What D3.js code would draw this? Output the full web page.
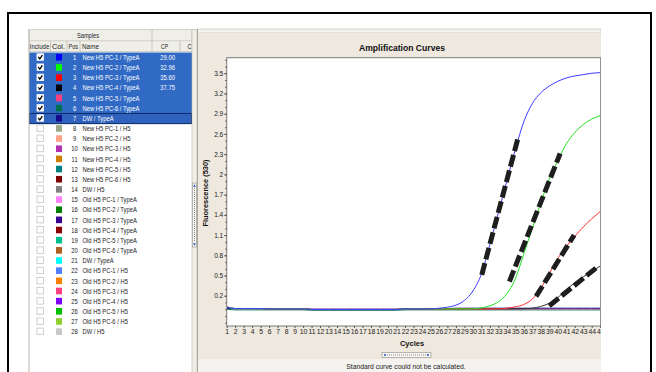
<!DOCTYPE html>
<html>
<head>
<meta charset="utf-8">
<script src="https://cdn.jsdelivr.net/npm/d3@7"></script>
<style>
  html, body { margin: 0; padding: 0; background: #fff; }
  svg text { font-family: "Liberation Sans Narrow", "Arial Narrow", "Liberation Sans", sans-serif; }
</style>
</head>
<body>
<svg id="graphic"></svg>
<script>

// Sample table
const samplePos = [1, 2, 3, 4, 5, 6, 7, 8, 9, 10, 11, 12, 13, 14, 15, 16, 17, 18, 19, 20, 21, 22, 23, 24, 25, 26, 27, 28]
const sampleNames = [
    "New H5 PC-1 / TypeA", "New H5 PC-2 / TypeA", "New H5 PC-3 / TypeA", "New H5 PC-4 / TypeA",
    "New H5 PC-5 / TypeA", "New H5 PC-6 / TypeA", "DW / TypeA",
    "New H5 PC-1 / H5", "New H5 PC-2 / H5", "New H5 PC-3 / H5", "New H5 PC-4 / H5",
    "New H5 PC-5 / H5", "New H5 PC-6 / H5", "DW / H5",
    "Old H5 PC-1 / TypeA", "Old H5 PC-2 / TypeA", "Old H5 PC-3 / TypeA", "Old H5 PC-4 / TypeA",
    "Old H5 PC-5 / TypeA", "Old H5 PC-6 / TypeA", "DW / TypeA",
    "Old H5 PC-1 / H5", "Old H5 PC-2 / H5", "Old H5 PC-3 / H5", "Old H5 PC-4 / H5",
    "Old H5 PC-5 / H5", "Old H5 PC-6 / H5", "DW / H5"
]
const sampleColors = [
    "#0000ff", "#00ff00", "#ff0000", "#000000", "#ff3d7f", "#007050", "#140c8a",
    "#9aa88a", "#ffa08a", "#b030b0", "#d08000", "#008080", "#800000", "#808080",
    "#ff80ff", "#008000", "#3a0090", "#8b0000", "#00c090", "#b06020", "#00ffff",
    "#5080ff", "#ff8000", "#ff4080", "#8000ff", "#00c000", "#90d030", "#c8c8c8"
]
const sampleCP = ["29.00", "32.96", "35.60", "37.75"]
const includedCount = 7
const columnHeaders = ["Include", "Col.", "Pos", "Name", "CP", "C"]

// Amplification data
const cycles = [1, 2, 3, 4, 5, 6, 7, 8, 9, 10, 11, 12, 13, 14, 15, 16, 17, 18, 19, 20, 21, 22, 23,
    24, 25, 26, 27, 28, 29, 30, 31, 32, 33, 34, 35, 36, 37, 38, 39, 40, 41, 42, 43, 44, 45]
const yTicks = [0.2, 0.5, 0.8, 1.1, 1.4, 1.7, 2, 2.3, 2.6, 2.9, 3.2, 3.5]

const pc1TypeA = [0.03, 0.01, 0.01, 0.01, 0.01, 0.005, 0.005, 0.005, 0.005, 0.005,
    -0.005, -0.005, -0.005, -0.005, -0.005, -0.005, -0.005, -0.005, -0.005, -0.005, -0.005,
    0.005, 0.005, 0.005, 0.005, 0.015, 0.03, 0.06, 0.13, 0.27,
    0.52, 0.96, 1.43, 1.9, 2.37, 2.78, 3.05, 3.21, 3.31, 3.38, 3.43, 3.46, 3.48, 3.5, 3.51]
const pc2TypeA = [0.03, 0.01, 0.01, 0.01, 0.01, 0.005, 0.005, 0.005, 0.005, 0.005,
    -0.005, -0.005, -0.005, -0.005, -0.005, -0.005, -0.005, -0.005, -0.005, -0.005, -0.005,
    0.005, 0.005, 0.005, 0.005, 0.005, 0.005, 0.005, 0.005, 0.005,
    0.02, 0.05, 0.11, 0.23, 0.45, 0.82, 1.2, 1.58, 1.93, 2.2, 2.45, 2.62, 2.74, 2.82, 2.87]
const pc3TypeA = [0.04, 0.01, 0.01, 0.01, 0.01, 0.005, 0.005, 0.005, 0.005, 0.005,
    -0.005, -0.005, -0.005, -0.005, -0.005, -0.005, -0.005, -0.005, -0.005, -0.005, -0.005,
    0.005, 0.005, 0.005, 0.005, 0.005, 0.005, 0.005, 0.005, 0.005, 0.005, 0.005, 0.005,
    0.015, 0.035, 0.07, 0.15, 0.31, 0.53, 0.75, 0.93, 1.08, 1.22, 1.34, 1.45]
const pc4TypeA = [0.03, 0.01, 0.01, 0.01, 0.01, 0.005, 0.005, 0.005, 0.005, 0.005,
    -0.005, -0.005, -0.005, -0.005, -0.005, -0.005, -0.005, -0.005, -0.005, -0.005, -0.005,
    0.005, 0.005, 0.005, 0.005, 0.005, 0.005, 0.005, 0.005, 0.005, 0.005, 0.005, 0.005,
    0.005, 0.005, 0.005, 0.015, 0.04, 0.09, 0.17, 0.29, 0.39, 0.48, 0.56, 0.64]
const pc5TypeA = [0.01, 0.01, 0.01, 0.01, 0.01, 0.005, 0.005, 0.005, 0.005, 0.005,
    0, 0, 0, 0, 0, 0, 0, 0, 0, 0, 0, 0.005, 0.005, 0.005, 0.005, 0.005, 0.005, 0.005,
    0.005, 0.005, 0.005, 0.005, 0.005, 0.005, 0.005, 0.005, 0.005, 0.005, 0.005, 0.005,
    0.005, 0.005, 0.005, 0.005, 0.005]
const pc6TypeA = [0.0, -0.01, -0.01, -0.01, -0.01, -0.01, -0.01, -0.01, -0.01, -0.01,
    -0.015, -0.015, -0.015, -0.015, -0.015, -0.015, -0.015, -0.015, -0.015, -0.015, -0.015,
    -0.01, -0.01, -0.01, -0.01, -0.01, -0.01, -0.01, -0.01, -0.01, -0.01, -0.01, -0.01,
    -0.01, -0.01, -0.01, -0.01, -0.01, -0.01, -0.01, -0.01, -0.01, -0.01, -0.01, -0.01]
const dwTypeA = [0.01, 0.01, 0.01, 0.01, 0.01, 0.005, 0.005, 0.005, 0.005, 0.005,
    0, 0, 0, 0, 0, 0, 0, 0, 0, 0, 0, 0.005, 0.005, 0.005, 0.01, 0.01, 0.01, 0.015,
    0.015, 0.015, 0.015, 0.015, 0.015, 0.015, 0.015, 0.015, 0.015, 0.015, 0.015, 0.015,
    0.015, 0.015, 0.015, 0.015, 0.015]

// Hand drawn tangent marks: [cycle, fluorescence]
const tangentFrom = [[31.05, 0.51], [34.3, 0.41], [37.45, 0.19], [39.0, 0.05]]
const tangentTo = [[35.36, 2.56], [40.28, 2.31], [41.93, 1.10], [44.5, 0.61]]

document.addEventListener("DOMContentLoaded", () => {
    drawPage()
})

function drawPage(){

    const w = 656
    const h = 372

    const svg = d3.select("#graphic")
        .attr("width", w)
        .attr("height", h)

    svg.append("rect").attr("width", w).attr("height", h).attr("fill", "#fff")

    drawTable(svg)
    drawChart(svg)

    // outer black frame
    svg.append("rect")
        .attr("x", 8).attr("y", 13)
        .attr("width", 643).attr("height", 380)
        .attr("fill", "none")
        .attr("stroke", "#000")
        .attr("stroke-width", 2)
}

// squeeze small text so it looks like the narrow UI font of the original
function squeeze(sel, factor){
    sel.each(function(){
        const len = this.getComputedTextLength()
        d3.select(this)
            .attr("textLength", len * factor)
            .attr("lengthAdjust", "spacingAndGlyphs")
    })
}

function drawTable(svg){

    const left = 29
    const right = 192
    const rowH = 10.16
    const firstRow = 57.3
    const rowY = i => firstRow + i * rowH

    const table = svg.append("g")

    // header rows
    table.append("rect")
        .attr("x", left).attr("y", 29.5)
        .attr("width", right - left).attr("height", 22)
        .attr("fill", "#efeee8")
        .attr("stroke", "#c8c6bc")
        .attr("stroke-width", 0.8)
    table.append("line")
        .attr("x1", left).attr("x2", right)
        .attr("y1", 40.8).attr("y2", 40.8)
        .attr("stroke", "#d0cec4")

    const sepX = [50.5, 67, 80, 152, 180]
    table.selectAll(".sep")
        .data(sepX)
        .enter()
        .append("line")
        .attr("x1", d => d).attr("x2", d => d)
        .attr("y1", d => d == 152 ? 29.5 : 41)
        .attr("y2", 51.5)
        .attr("stroke", "#c8c6bc")

    const samplesLabel = table.append("text")
        .attr("x", 88).attr("y", 38.2)
        .attr("text-anchor", "middle")
        .attr("font-size", 7.2)
        .attr("fill", "#222")
        .text("Samples")

    const headerX = [29.8, 52, 68.5, 82, 161, 187.5]
    const headerW = [19.5, 13, 9.5, 17, 7, 4]
    table.selectAll(".hdr")
        .data(columnHeaders)
        .enter()
        .append("text")
        .attr("x", (d, i) => headerX[i]).attr("y", 48.8)
        .attr("font-size", 7.2)
        .attr("fill", "#222")
        .attr("textLength", (d, i) => headerW[i])
        .attr("lengthAdjust", "spacingAndGlyphs")
        .text(d => d)

    // selection band
    table.append("rect")
        .attr("x", left).attr("y", rowY(0) - 4.8)
        .attr("width", right - left).attr("height", rowH * includedCount)
        .attr("fill", "#316ac5")
    table.append("rect")
        .attr("x", left + 0.5).attr("y", rowY(6) - 4.8)
        .attr("width", right - left - 1).attr("height", rowH)
        .attr("fill", "#2f62bd")
        .attr("stroke", "#0b2a66")
        .attr("stroke-width", 1)

    const rows = table.selectAll(".row")
        .data(samplePos)
        .enter()
        .append("g")
        .attr("transform", (d, i) => `translate(0, ${rowY(i)})`)

    // checkboxes
    rows.append("rect")
        .attr("x", 37).attr("y", -3.5)
        .attr("width", 6.5).attr("height", 6.5)
        .attr("fill", "#fff")
        .attr("stroke", (d, i) => i < includedCount ? "#fff" : "#c4c4c4")
        .attr("stroke-width", 0.8)
    rows.filter((d, i) => i < includedCount)
        .append("path")
        .attr("d", "M38.3,-0.4 L39.8,1.6 L42.4,-2.2")
        .attr("fill", "none")
        .attr("stroke", "#000")
        .attr("stroke-width", 1.3)

    // colour swatches
    rows.append("rect")
        .attr("x", 56).attr("y", -3.3)
        .attr("width", 6).attr("height", 6.6)
        .attr("fill", (d, i) => sampleColors[i])

    const posText = rows.append("text")
        .attr("x", 74.6).attr("y", 2.7)
        .attr("text-anchor", "middle")
        .attr("font-size", 7.4)
        .attr("fill", (d, i) => i < includedCount ? "#fff" : "#222")
        .text(d => d)

    const nameText = rows.append("text")
        .attr("x", 82.5).attr("y", 2.7)
        .attr("font-size", 7.4)
        .attr("fill", (d, i) => i < includedCount ? "#fff" : "#222")
        .text((d, i) => sampleNames[i])

    const cpText = rows.filter((d, i) => i < sampleCP.length)
        .append("text")
        .attr("x", 160.3).attr("y", 2.7)
        .attr("font-size", 7.4)
        .attr("fill", "#fff")
        .text((d, i) => sampleCP[i])

    // the reference name "New H5 PC-1 / TypeA" is about 57px wide
    const factor = Math.min(1, 57 / nameText.node().getComputedTextLength())
    squeeze(nameText, factor)
    squeeze(posText, factor)
    squeeze(cpText, factor)
    squeeze(samplesLabel, factor)

    // table borders
    table.append("line")
        .attr("x1", left).attr("x2", left)
        .attr("y1", 29.5).attr("y2", 372)
        .attr("stroke", "#b8b6ac")
    table.append("rect")
        .attr("x", right).attr("y", 29.5)
        .attr("width", 5).attr("height", 345)
        .attr("fill", "#f0eee6")
        .attr("stroke", "#b8b6ac")
        .attr("stroke-width", 0.6)

    // splitter handle
    table.append("rect")
        .attr("x", 192.5).attr("y", 183)
        .attr("width", 4).attr("height", 64)
        .attr("fill", "#f6f6f3")
        .attr("stroke", "#9a9a9a")
        .attr("stroke-width", 0.7)
    table.append("line")
        .attr("x1", 194.5).attr("x2", 194.5)
        .attr("y1", 188).attr("y2", 242)
        .attr("stroke", "#8a8a8a")
        .attr("stroke-dasharray", "1,1")
    table.selectAll(".arrow")
        .data([[185.5, -1], [244.5, 1]])
        .enter()
        .append("path")
        .attr("d", d => `M193.2,${d[0] - d[1] * 1.2} L195.8,${d[0] - d[1] * 1.2} L194.5,${d[0] + d[1] * 1.2} Z`)
        .attr("fill", "#2050c0")
}

function drawChart(svg){

    const panelL = 197
    const panelR = 601

    svg.append("clipPath")
        .attr("id", "panel-clip")
        .append("rect")
        .attr("x", panelL).attr("y", 0)
        .attr("width", panelR - panelL).attr("height", 372)

    const panel = svg.append("g").attr("clip-path", "url(#panel-clip)")

    // panel backgrounds
    panel.append("rect")
        .attr("x", panelL).attr("y", 29)
        .attr("width", panelR - panelL).attr("height", 4)
        .attr("fill", "#f2f2f0")
        .attr("stroke", "#b8b8b0")
        .attr("stroke-width", 0.6)
    panel.append("rect")
        .attr("x", panelL).attr("y", 33)
        .attr("width", panelR - panelL).attr("height", 326)
        .attr("fill", "#eee8df")
    panel.append("rect")
        .attr("x", panelL).attr("y", 359)
        .attr("width", panelR - panelL).attr("height", 14)
        .attr("fill", "#f4f3ef")
    panel.append("line")
        .attr("x1", panelL + 0.5).attr("x2", panelL + 0.5)
        .attr("y1", 29).attr("y2", 372)
        .attr("stroke", "#a8a8a0")

    // scales
    const plotL = 226.7
    const plotR = 600.2
    const plotT = 57.7
    const plotB = 326

    const xScale = d3.scaleLinear()
        .domain([1, 45])
        .range([plotL, plotR])

    const yScale = d3.scaleLinear()
        .domain([-0.249, 3.731])
        .range([plotB, plotT])

    panel.append("rect")
        .attr("x", plotL).attr("y", plotT)
        .attr("width", plotR - plotL + 0.5).attr("height", plotB - plotT)
        .attr("fill", "#fff")
        .attr("stroke", "#7a7a7a")
        .attr("stroke-width", 1)

    // title
    panel.append("text")
        .attr("x", 402).attr("y", 51)
        .attr("text-anchor", "middle")
        .attr("font-size", 8.6)
        .attr("font-weight", "bold")
        .attr("font-family", "'Liberation Sans', Arial, sans-serif")
        .attr("fill", "#111")
        .text("Amplification Curves")

    // axes
    const axisLeft = d3.axisLeft(yScale)
        .tickValues(yTicks)
        .tickFormat(d => d)
        .tickSize(2.5)
        .tickPadding(1)

    const minorTicks = d3.axisLeft(yScale)
        .tickValues(d3.range(-0.2, 3.75, 0.1))
        .tickFormat("")
        .tickSize(1.5)

    const axisBottom = d3.axisBottom(xScale)
        .tickValues(cycles)
        .tickSize(2)
        .tickPadding(1.5)

    const gy = panel.append("g")
        .attr("transform", `translate(${plotL}, 0)`)
        .call(axisLeft)
    panel.append("g")
        .attr("transform", `translate(${plotL}, 0)`)
        .call(minorTicks)
        .select(".domain").remove()

    const gx = panel.append("g")
        .attr("transform", `translate(0, ${plotB})`)
        .call(axisBottom)

    panel.selectAll(".domain").remove()
    panel.selectAll(".tick line").attr("stroke", "#555")
    gy.selectAll("text")
        .attr("font-size", 6.5)
        .attr("fill", "#222")
        .attr("font-family", "'Liberation Sans Narrow', 'Liberation Sans', sans-serif")
    gx.selectAll("text")
        .attr("font-size", 6.8)
        .attr("fill", "#222")
        .attr("font-family", "'Liberation Sans Narrow', 'Liberation Sans', sans-serif")

    panel.append("text")
        .attr("transform", "translate(207.5, 193) rotate(-90)")
        .attr("text-anchor", "middle")
        .attr("font-size", 7.4)
        .attr("font-weight", "bold")
        .attr("fill", "#111")
        .text("Fluorescence (530)")

    panel.append("text")
        .attr("x", 412).attr("y", 345.5)
        .attr("text-anchor", "middle")
        .attr("font-size", 7.5)
        .attr("font-weight", "bold")
        .attr("fill", "#111")
        .text("Cycles")

    // curves
    svg.append("clipPath")
        .attr("id", "plot-clip")
        .append("rect")
        .attr("x", plotL + 0.5).attr("y", plotT + 0.5)
        .attr("width", plotR - plotL - 0.5).attr("height", plotB - plotT - 1)

    const line = d3.line()
        .x((d, i) => xScale(cycles[i]))
        .y(d => yScale(d))
        .curve(d3.curveMonotoneX)

    const curves = [
        [pc6TypeA, sampleColors[5]],
        [pc5TypeA, sampleColors[4]],
        [dwTypeA, sampleColors[6]],
        [pc4TypeA, "#333333"],
        [pc3TypeA, "#ff3030"],
        [pc2TypeA, "#22e022"],
        [pc1TypeA, "#3a3aff"]
    ]

    const plot = panel.append("g").attr("clip-path", "url(#plot-clip)")

    plot.selectAll(".curve")
        .data(curves)
        .enter()
        .append("path")
        .attr("d", d => line(d[0]))
        .attr("fill", "none")
        .attr("stroke", d => d[1])
        .attr("stroke-width", 1)

    // dashed tangents
    plot.selectAll(".tangent")
        .data(tangentFrom)
        .enter()
        .append("line")
        .attr("x1", d => xScale(d[0]))
        .attr("y1", d => yScale(d[1]))
        .attr("x2", (d, i) => xScale(tangentTo[i][0]))
        .attr("y2", (d, i) => yScale(tangentTo[i][1]))
        .attr("stroke", "#1e1e1e")
        .attr("stroke-width", 5)
        .attr("stroke-dasharray", "12,4")

    // little horizontal scroller
    panel.append("rect")
        .attr("x", 382).attr("y", 352.5)
        .attr("width", 49).attr("height", 5)
        .attr("fill", "#f6f6f3")
        .attr("stroke", "#9a9a9a")
        .attr("stroke-width", 0.7)
    panel.append("line")
        .attr("x1", 387).attr("x2", 426)
        .attr("y1", 355).attr("y2", 355)
        .attr("stroke", "#8a8a8a")
        .attr("stroke-dasharray", "1,1")
    panel.selectAll(".hdot")
        .data([385, 428])
        .enter()
        .append("circle")
        .attr("cx", d => d).attr("cy", 355)
        .attr("r", 1)
        .attr("fill", "#2050c0")

    panel.append("text")
        .attr("x", 406).attr("y", 369)
        .attr("text-anchor", "middle")
        .attr("font-size", 6.8)
        .attr("fill", "#222")
        .text("Standard curve could not be calculated.")
}
</script>
</body>
</html>
